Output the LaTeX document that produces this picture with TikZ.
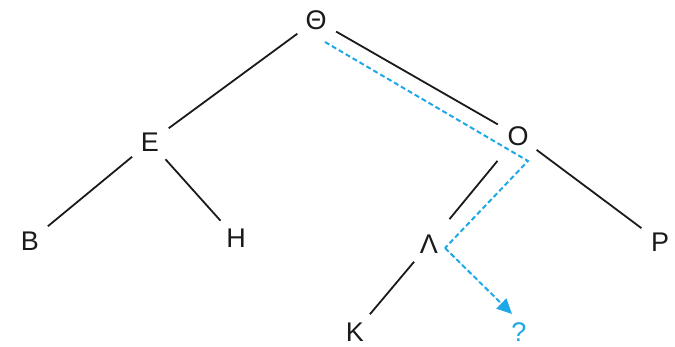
\documentclass[tikz,border=0pt]{standalone}
\usepackage{fontspec}
\setmainfont{Liberation Sans}
\usepackage{xcolor}
\usetikzlibrary{arrows.meta,positioning}
\definecolor{trblack}{HTML}{1A1A1A}
\definecolor{trblue}{HTML}{1EA8E6}
\tikzset{
  key/.style  = {circle, minimum size=46pt, inner sep=0pt,
                 font=\fontsize{27}{30}\selectfont, text=trblack},
  br/.style   = {draw=trblack, line width=1.8pt},
  srch/.style = {draw=trblue, line width=2pt, dash pattern=on 5pt off 3pt},
  tip/.style  = {-{Triangle[length=15pt,width=14pt]}},
}

\begin{document}
\begin{tikzpicture}[x=1pt,y=-1pt]
  \useasboundingbox (0,0) rectangle (675,347);
  % --- tree keys
  \node[key] (th) at (316,20)  {Θ};
  \node[key] (e)  at (150,142) {Ε};
  \node[key] (o)  at (518,136) {Ο};
  \node[key] (b)  at (30,241)  {Β};
  \node[key] (h)  at (236,238) {Η};
  \node[key] (l)  at (429,244) {Λ};
  \node[key] (p)  at (660,242) {Ρ};
  \node[key] (k)  at (355,332) {Κ};
  \node[key, text=trblue] (q) at (519,332) {?};

  % --- branches
  \draw[br] (th)--(e); \draw[br] (th)--(o);
  \draw[br] (e)--(b);  \draw[br] (e)--(h);
  \draw[br, shorten <=9pt, shorten >=9pt] (o)--(l);
  \draw[br] (o)--(p);  \draw[br] (l)--(k);

  % --- search path
  \coordinate (s0) at (325,42);
  \coordinate (s1) at (528,161);
  \coordinate (s2) at (445,248);
  \coordinate (s3) at (512,314);
  \draw[srch] (s0)--(s1)--(s2);
  \draw[srch, tip, fill=trblue] (s2)--(s3);
\end{tikzpicture}
\end{document}
